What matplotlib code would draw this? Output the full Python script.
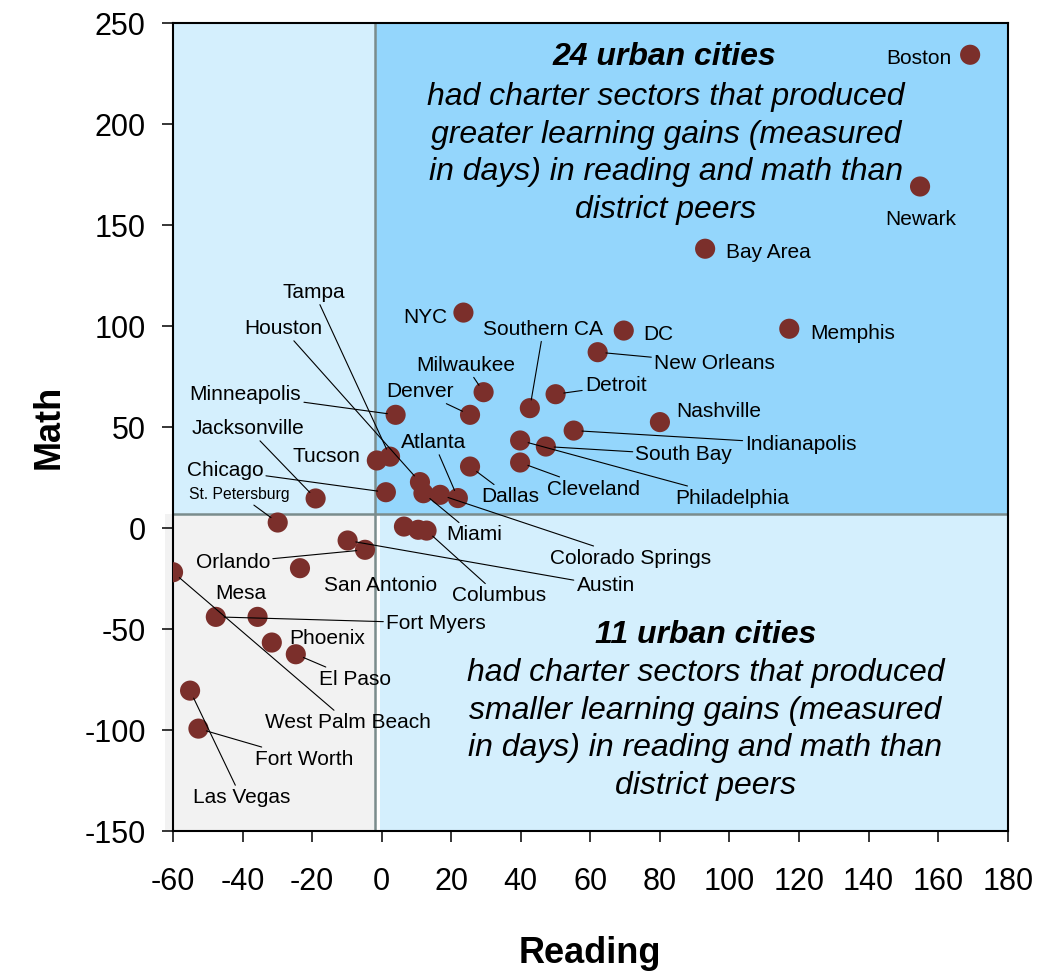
import numpy as np
import matplotlib
matplotlib.use("Agg")
import matplotlib.pyplot as plt
from matplotlib.patches import Rectangle

plt.rcParams['font.family'] = ['Liberation Sans', 'DejaVu Sans']
plt.rcParams['axes.unicode_minus'] = False

# city values: learning gains in days (reading, math)
cities = ["Boston", "Newark", "Bay Area", "NYC", "DC", "Memphis", "New Orleans",
          "Milwaukee", "Detroit", "Southern CA", "Denver", "Minneapolis", "Nashville",
          "Indianapolis", "Philadelphia", "South Bay", "Cleveland", "Dallas", "Tampa",
          "Tucson", "Houston", "Chicago", "Miami", "Colorado Springs", "Atlanta",
          "Jacksonville", "St. Petersburg", "", "", "Columbus", "Austin", "Orlando",
          "San Antonio", "West Palm Beach", "Fort Myers", "Mesa", "Phoenix", "El Paso",
          "Las Vegas", "Fort Worth"]
reading = [169.2, 154.8, 93.0, 23.5, 69.6, 117.2, 62.1, 29.3, 50.0, 42.6, 25.4, 4.0,
           80.0, 55.2, 39.8, 47.2, 39.8, 25.4, 2.4, -1.4, 11.0, 1.2, 12.0, 16.8, 21.9,
           -19.0, -29.9, 6.4, 10.5, 12.9, -9.8, -4.8, -23.5, -60.0, -47.7, -35.7,
           -31.6, -24.7, -55.1, -52.7]
math = [234.3, 169.1, 138.3, 106.7, 97.8, 98.7, 87.1, 67.3, 66.3, 59.4, 56.1, 56.1,
        52.5, 48.3, 43.4, 40.4, 32.5, 30.5, 35.4, 33.5, 22.8, 17.8, 17.3, 16.5, 14.9,
        14.7, 2.8, 0.8, -0.8, -1.2, -6.1, -10.7, -19.8, -21.8, -43.9, -43.9, -56.6,
        -62.4, -80.4, -99.2]

# label placement (data coords) and whether a leader line is drawn
label_x = [154.5, 155.1, 111.3, 12.6, 79.5, 135.5, 95.7, 24.1, 67.3, 46.5, 11.1, -39.2,
           97.0, 120.6, 100.9, 86.9, 60.8, 37.0, -19.4, -16.0, -28.4, -45.1, 26.5, 71.5,
           15.0, -38.4, -40.8, None, None, 33.7, 64.4, -42.8, -0.3, -9.6, 15.6, -40.6,
           -15.7, -7.8, -40.4, -22.4]
label_y = [232.5, 153.0, 136.5, 104.3, 95.7, 96.5, 81.7, 80.7, 70.5, 98.5, 67.7, 66.3,
           57.8, 41.6, 14.8, 36.3, 19.3, 15.5, 116.7, 35.5, 98.8, 28.7, -3.3, -14.9,
           42.4, 49.3, 16.5, None, None, -33.5, -28.5, -17.0, -28.2, -96.2, -47.0, -32.2,
           -54.5, -74.8, -133.3, -114.4]
leader = [0, 0, 0, 0, 0, 0, 1, 1, 1, 1, 1, 1, 0, 1, 1, 1, 1, 1, 1, 0, 1, 1, 1, 1, 1, 1,
          1, 0, 0, 1, 1, 1, 0, 1, 1, 0, 0, 1, 1, 1]

# quadrant notes
upper_lines = ["had charter sectors that produced", "greater learning gains (measured",
               "in days) in reading and math than", "district peers"]
lower_lines = ["had charter sectors that produced", "smaller learning gains (measured",
               "in days) in reading and math than", "district peers"]
upper_y = [213.3, 194.5, 176.2, 157.4]
lower_y = [-71.5, -90.3, -108.6, -127.4]

x_split = -2.0
y_split = 6.8

dark_blue = '#94d6fc'
light_blue = '#d4effd'
grey_bg = '#f2f2f2'
dot_color = '#7b2f2b'
line_grey = '#7a8c8c'

fig = plt.figure(figsize=(10.38, 9.72), dpi=100)
ax = fig.add_axes([0.1667, 0.1448, 0.8041, 0.8315])
ax.set_xlim(-60, 180)
ax.set_ylim(-150, 250)

# quadrant backgrounds
ax.add_patch(Rectangle((x_split, y_split), 180 - x_split, 250 - y_split,
                       facecolor=dark_blue, edgecolor='none', zorder=0))
ax.add_patch(Rectangle((-60, y_split), x_split + 60, 250 - y_split,
                       facecolor=light_blue, edgecolor='none', zorder=0))
ax.add_patch(Rectangle((-62.2, -150), x_split + 62.2, y_split + 150,
                       facecolor=grey_bg, edgecolor='none', zorder=0, clip_on=False))
ax.add_patch(Rectangle((-0.6, -150), 180.6, y_split + 150,
                       facecolor=light_blue, edgecolor='none', zorder=0))
ax.axvline(x_split, color=line_grey, lw=1.8, zorder=1)
ax.axhline(y_split, color=line_grey, lw=1.8, zorder=1)

ax.scatter(reading, math, s=210, color=dot_color, edgecolors='none', zorder=3)

for name, r, m, lx, ly, ld in zip(cities, reading, math, label_x, label_y, leader):
    if not name:
        continue
    fs = 11.3 if name == "St. Petersburg" else 15
    if ld:
        ax.annotate(name, xy=(r, m), xytext=(lx, ly), ha='center', va='center',
                    fontsize=fs, zorder=4,
                    arrowprops=dict(arrowstyle='-', color='black', lw=0.8,
                                    shrinkA=0, shrinkB=6))
    else:
        ax.text(lx, ly, name, ha='center', va='center', fontsize=fs, zorder=4)

ax.text(81.4, 233.0, "24 urban cities", ha='center', va='center', fontsize=23,
        fontweight='bold', fontstyle='italic', zorder=4)
for txt, ty in zip(upper_lines, upper_y):
    ax.text(81.7, ty, txt, ha='center', va='center', fontsize=23,
            fontstyle='italic', zorder=4)
ax.text(93.1, -53.1, "11 urban cities", ha='center', va='center', fontsize=23,
        fontweight='bold', fontstyle='italic', zorder=4)
for txt, ty in zip(lower_lines, lower_y):
    ax.text(93.1, ty, txt, ha='center', va='center', fontsize=23,
            fontstyle='italic', zorder=4)

ax.set_xticks(np.arange(-60, 181, 20))
ax.set_yticks(np.arange(-150, 251, 50))
ax.tick_params(axis='both', direction='out', length=7.7, width=1.1, labelsize=22,
               colors='black')
ax.tick_params(axis='x', pad=18)
ax.tick_params(axis='y', pad=12)
for sp in ax.spines.values():
    sp.set_linewidth(1.5)
    sp.set_color('black')

ax.set_xlabel("Reading", fontsize=26, fontweight='bold')
ax.set_ylabel("Math", fontsize=26, fontweight='bold')
ax.xaxis.set_label_coords(0.5, -0.151)
ax.yaxis.set_label_coords(-0.149, 0.5)
ax.xaxis.label.set_va('center')
ax.yaxis.label.set_va('center')

fig.savefig("out.png", dpi=100)
